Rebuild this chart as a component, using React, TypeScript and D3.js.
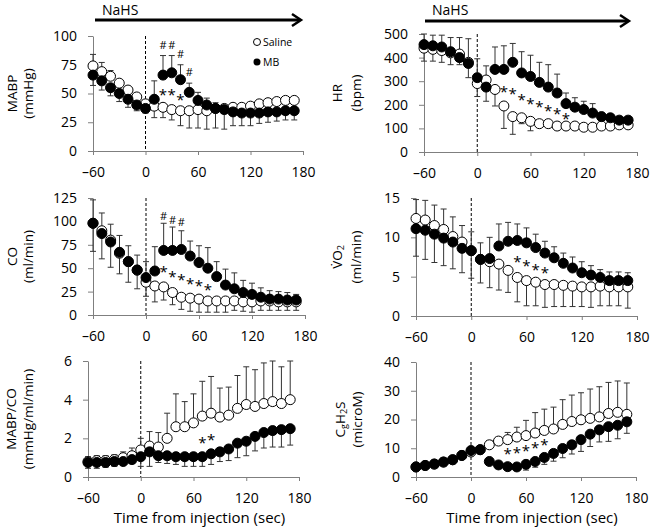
import React, { useEffect, useRef } from 'react';
import * as d3 from 'd3';

const W = 650;
const H = 528;
const FONT = '"Open Sans", "Liberation Sans", sans-serif';

// sampling times (sec from injection)
const times = [-60, -50, -40, -30, -20, -10, 0, 10, 20, 30, 40, 50, 60, 70, 80, 90, 100, 110, 120, 130, 140, 150, 160, 170];
const xTicks = [-60, 0, 60, 120, 180];

// error values are signed: positive = bar drawn up, negative = bar drawn down

// MABP (mmHg)
const mabpSaline = [74, 69, 65, 59, 53, 47, 41, 39, 38, 36, 35, 35, 36, 35, 37, 37, 38, 38, 39, 41, 42, 43, 44, 44];
const mabpSalineErr = [10, 8, 5, 3, 2, 2, 2, -10, -9, -9, -13, -15, -16, -16, -17, 3, 2, 2, 2, 2, 2, 2, 2, 2];
const mabpMB = [66, 61, 55, 50, 45, 40, 37, 45, 66, 68, 62, 51, 44, 40, 37, 36, 34, 33, 33, 33, 34, 34, 35, 35];
const mabpMBErr = [-9, -8, -7, -7, -7, -5, -4, 16, 17, 15, 13, 8, 7, 6, 5, -17, -12, -11, -11, -9, -9, -8, -8, -8];
const mabpStarT = [20, 30, 40];
const mabpStarV = [51, 51, 47];
const mabpHashT = [20, 30, 40, 50];
const mabpHashV = [92, 92, 84, 69];

// HR (bpm)
const hrSaline = [440, 435, 430, 420, 415, 380, 290, 305, 265, 195, 150, 145, 130, 120, 120, 110, 110, 110, 105, 105, 110, 110, 115, 115];
const hrSalineErr = [-55, -50, -50, -50, -45, -65, -55, 60, -70, -95, -75, -25, -40, -10, -10, -15, -15, -5, -5, -5, -5, -5, -5, -5];
const hrMB = [455, 450, 445, 425, 400, 375, 315, 275, 350, 350, 380, 335, 320, 295, 275, 250, 205, 190, 180, 165, 150, 145, 135, 135];
const hrMBErr = [45, 45, 50, 60, 85, 105, 80, -60, 95, 100, 80, 90, 90, 85, 95, 80, 45, 40, 35, 40, 10, 10, 10, 10];
const hrStarT = [30, 40, 50, 60, 70, 80, 90, 100];
const hrStarV = [265, 260, 232, 217, 202, 188, 175, 153];

// CO (ml/min)
const coSaline = [98, 90, 80, 66, 57, 48, 35, 31, 30, 24, 19, 18, 17, 15, 15, 15, 15, 14, 14, 15, 15, 14, 14, 14];
const coSalineErr = [-30, -30, -29, -22, -22, -20, -15, -17, -14, -13, -13, -14, -14, -12, -12, -12, -10, -10, -11, -10, -10, -9, -9, -9];
const coMB = [98, 87, 78, 67, 57, 48, 40, 47, 69, 69, 70, 63, 56, 50, 41, 32, 28, 24, 22, 19, 17, 17, 16, 16];
const coMBErr = [25, 22, 19, 18, 17, 16, 17, 26, 29, 25, 20, 16, 18, 22, 16, 17, 17, 13, 12, 10, 9, 8, 8, 6];
const coStarT = [20, 30, 40, 50, 60, 70];
const coStarV = [49, 44, 41, 36, 34, 30];
const coHashT = [20, 30, 40];
const coHashV = [106, 102, 99];

// VO2 (ml/min)
const vo2Saline = [12.4, 12.2, 11.5, 11.0, 10.1, 9.4, 8.3, 7.2, 6.9, 6.6, 5.8, 4.9, 4.5, 4.3, 4.0, 4.0, 3.9, 3.8, 3.7, 3.7, 3.8, 3.7, 3.7, 3.7];
const vo2SalineErr = [2.4, 2.5, 2.6, 2.6, 2.5, 2.1, 2.4, -3.0, -3.3, -3.3, -2.8, -3.1, -3.2, -3.0, -2.9, -2.8, -2.7, -2.6, -2.5, -2.6, -2.5, -2.4, -2.4, -2.7];
const vo2MB = [11.1, 10.9, 10.4, 9.9, 9.4, 8.6, 8.3, 7.2, 7.3, 8.9, 9.5, 9.6, 9.3, 8.7, 8.0, 7.4, 6.7, 6.1, 5.5, 5.2, 4.9, 4.5, 4.5, 4.5];
const vo2MBErr = [-3.5, -3.7, -3.6, -3.5, -3.4, -3.1, -3.5, 2.1, 2.7, 2.8, 2.4, 2.1, 1.9, 1.7, 1.5, 1.4, 1.3, 1.4, 1.4, 1.2, 1.0, 1.1, 1.1, 1.0];
const vo2StarT = [50, 60, 70, 80];
const vo2StarV = [7.2, 6.8, 6.2, 5.8];

// MABP/CO (mmHg/ml/min)
const ratioSaline = [0.8, 0.85, 0.85, 0.9, 1.0, 1.1, 1.4, 1.6, 1.55, 2.0, 2.6, 2.6, 2.8, 3.15, 3.3, 3.1, 3.2, 3.55, 3.75, 3.65, 3.8, 3.9, 3.8, 4.0];
const ratioSalineErr = [0.25, 0.25, 0.25, 0.25, 0.3, 0.4, 0.6, 0.75, 0.75, 1.3, 1.7, 1.3, 1.5, 1.8, 1.9, 1.5, 1.45, 1.7, 1.95, 1.9, 2.1, 2.1, 1.9, 2.0];
const ratioMB = [0.75, 0.75, 0.75, 0.8, 0.8, 0.9, 1.05, 1.3, 1.1, 1.1, 1.05, 1.05, 1.05, 1.05, 1.2, 1.3, 1.45, 1.75, 1.85, 2.1, 2.3, 2.4, 2.45, 2.5];
const ratioMBErr = [-0.3, -0.3, -0.25, -0.25, -0.2, -0.2, -0.5, -0.75, -0.35, -0.4, -0.4, -0.5, -0.5, -0.5, -0.55, -0.5, -0.6, -0.75, -0.75, -0.75, -0.8, -0.85, -0.9, -0.85];
const ratioStarT = [70, 80];
const ratioStarV = [1.9, 2.08];

// CgH2S (microM)
const h2sSaline = [3.5, 4.0, 4.5, 5.2, 6.0, 7.5, 8.7, 9.5, 11.2, 12.5, 13.0, 13.9, 14.4, 15.3, 16.2, 16.7, 18.3, 19.3, 19.9, 20.4, 20.9, 22.1, 22.5, 21.8];
const h2sSalineErr = [0.3, 0.3, 0.3, 0.3, 0.3, 0.3, 0.5, 0.3, 1.5, 1.0, 2.5, 3.4, 5.3, 7.1, 7.4, 7.6, 8.6, 9.2, 9.4, 10.2, 10.5, 10.8, 10.9, 10.9];
const h2sMB = [3.5, 4.0, 4.5, 5.2, 6.0, 7.5, 9.2, 9.5, 5.4, 4.2, 3.6, 3.5, 4.4, 5.4, 6.8, 8.2, 9.9, 11.2, 13.0, 14.9, 16.4, 17.5, 18.0, 19.2];
const h2sMBErr = [-0.5, -0.5, -0.5, -0.5, -0.5, -0.5, -0.5, -0.5, -0.5, -0.8, -1.0, -1.0, -2.0, -2.0, -2.4, -2.7, -3.2, -3.2, -4.1, -4.3, -4.2, -5.1, -4.7, -4.0];
const h2sStarT = [40, 50, 60, 70, 80];
const h2sStarV = [8.9, 9.4, 10.0, 11.2, 12.3];

type Seg = { t: string; sub?: boolean };

type Panel = {
  left: number; right: number; top: number; bottom: number;
  yMax: number; yTicks: number[];
  label1: Seg[]; label2: string; labelX: [number, number];
  saline: number[]; salineErr: number[]; mb: number[]; mbErr: number[];
  starT: number[]; starV: number[]; hashT?: number[]; hashV?: number[];
  xTitle?: boolean; legend?: boolean;
};

const panels: Panel[] = [
  {
    left: 93, right: 303, top: 36, bottom: 151, yMax: 100, yTicks: [0, 25, 50, 75, 100],
    label1: [{ t: 'MABP' }], label2: '(mmHg)', labelX: [12, 28],
    saline: mabpSaline, salineErr: mabpSalineErr, mb: mabpMB, mbErr: mabpMBErr,
    starT: mabpStarT, starV: mabpStarV, hashT: mabpHashT, hashV: mabpHashV, legend: true,
  },
  {
    left: 424, right: 637, top: 34, bottom: 152, yMax: 500, yTicks: [0, 100, 200, 300, 400, 500],
    label1: [{ t: 'HR' }], label2: '(bpm)', labelX: [337, 356],
    saline: hrSaline, salineErr: hrSalineErr, mb: hrMB, mbErr: hrMBErr,
    starT: hrStarT, starV: hrStarV,
  },
  {
    left: 93, right: 305, top: 198, bottom: 315, yMax: 125, yTicks: [0, 25, 50, 75, 100, 125],
    label1: [{ t: 'CO' }], label2: '(ml/min)', labelX: [12, 28],
    saline: coSaline, salineErr: coSalineErr, mb: coMB, mbErr: coMBErr,
    starT: coStarT, starV: coStarV, hashT: coHashT, hashV: coHashV,
  },
  {
    left: 416, right: 637, top: 198, bottom: 316, yMax: 15, yTicks: [0, 5, 10, 15],
    label1: [{ t: 'V\u0307O' }, { t: '2', sub: true }], label2: '(ml/min)', labelX: [337, 356],
    saline: vo2Saline, salineErr: vo2SalineErr, mb: vo2MB, mbErr: vo2MBErr,
    starT: vo2StarT, starV: vo2StarV,
  },
  {
    left: 88, right: 299, top: 361, bottom: 477, yMax: 6, yTicks: [0, 2, 4, 6],
    label1: [{ t: 'MABP/CO' }], label2: '(mmHg/ml/min)', labelX: [11, 28],
    saline: ratioSaline, salineErr: ratioSalineErr, mb: ratioMB, mbErr: ratioMBErr,
    starT: ratioStarT, starV: ratioStarV, xTitle: true,
  },
  {
    left: 416, right: 636, top: 362, bottom: 477, yMax: 40, yTicks: [0, 10, 20, 30, 40],
    label1: [{ t: 'C' }, { t: 'g', sub: true }, { t: 'H' }, { t: '2', sub: true }, { t: 'S' }], label2: '(microM)', labelX: [340, 357],
    saline: h2sSaline, salineErr: h2sSalineErr, mb: h2sMB, mbErr: h2sMBErr,
    starT: h2sStarT, starV: h2sStarV, xTitle: true,
  },
];

const AXIS = '#7f7f7f';
const fmt = (d: d3.NumberValue) => (+d < 0 ? '\u2013' + Math.abs(+d) : String(+d));

function drawPanel(svg: d3.Selection<SVGSVGElement, unknown, null, undefined>, p: Panel) {
  const x = d3.scaleLinear().domain([-60, 180]).range([p.left, p.right]);
  const y = d3.scaleLinear().domain([0, p.yMax]).range([p.bottom, p.top]);
  const g = svg.append('g');

  // y axis
  const ya = g.append('g')
    .attr('transform', `translate(${p.left},0)`)
    .call(d3.axisLeft(y).tickValues(p.yTicks).tickSize(5).tickSizeOuter(0).tickPadding(11).tickFormat(fmt));
  // x axis
  const xa = g.append('g')
    .attr('transform', `translate(0,${p.bottom})`)
    .call(d3.axisBottom(x).tickValues(xTicks).tickSize(4).tickSizeOuter(0).tickPadding(12).tickFormat(fmt));
  [ya, xa].forEach(a => {
    a.selectAll('path').attr('stroke', AXIS);
    a.selectAll('line').attr('stroke', AXIS);
    a.selectAll('text').attr('fill', '#000').style('font-family', FONT).style('font-size', '14px');
  });

  // dashed line at injection
  g.append('line')
    .attr('x1', x(0)).attr('x2', x(0))
    .attr('y1', p.top).attr('y2', p.bottom)
    .attr('stroke', '#000').attr('stroke-width', 1).attr('stroke-dasharray', '3,2');

  // error bars
  const bars = (vals: number[], errs: number[]) => {
    vals.forEach((v, i) => {
      const e = errs[i];
      if (!e) return;
      const cx = x(times[i]);
      const y1 = y(v + e);
      g.append('line').attr('x1', cx).attr('x2', cx).attr('y1', y(v)).attr('y2', y1)
        .attr('stroke', '#333').attr('stroke-width', 1);
      g.append('line').attr('x1', cx - 3).attr('x2', cx + 3).attr('y1', y1).attr('y2', y1)
        .attr('stroke', '#333').attr('stroke-width', 1);
    });
  };
  bars(p.saline, p.salineErr);
  bars(p.mb, p.mbErr);

  // markers
  g.append('g').selectAll('circle').data(p.saline).enter().append('circle')
    .attr('cx', (_, i) => x(times[i])).attr('cy', d => y(d)).attr('r', 5)
    .attr('fill', '#fff').attr('stroke', '#000').attr('stroke-width', 1);
  g.append('g').selectAll('circle').data(p.mb).enter().append('circle')
    .attr('cx', (_, i) => x(times[i])).attr('cy', d => y(d)).attr('r', 5)
    .attr('fill', '#000').attr('stroke', '#000').attr('stroke-width', 1);

  // significance marks
  p.starT.forEach((t, i) => {
    g.append('text').attr('x', x(t)).attr('y', y(p.starV[i]) + 8)
      .attr('text-anchor', 'middle').style('font-family', FONT).style('font-size', '15px')
      .text('*');
  });
  (p.hashT || []).forEach((t, i) => {
    g.append('text').attr('x', x(t)).attr('y', y(p.hashV![i]) + 4)
      .attr('text-anchor', 'middle').attr('fill', '#000')
      .style('font-family', FONT).style('font-size', '11px')
      .text('#');
  });

  // y labels
  const cy = (p.top + p.bottom) / 2;
  const l1 = g.append('text')
    .attr('transform', `translate(${p.labelX[0]},${cy}) rotate(-90)`)
    .attr('text-anchor', 'middle').attr('dominant-baseline', 'central')
    .style('font-family', FONT).style('font-size', '13.5px');
  p.label1.forEach((s, i) => {
    const ts = l1.append('tspan').text(s.t);
    if (s.sub) ts.attr('dy', 3).style('font-size', '9px');
    else if (i > 0 && p.label1[i - 1].sub) ts.attr('dy', -3);
  });
  g.append('text')
    .attr('transform', `translate(${p.labelX[1]},${cy}) rotate(-90)`)
    .attr('text-anchor', 'middle').attr('dominant-baseline', 'central')
    .style('font-family', FONT).style('font-size', '13.5px')
    .text(p.label2);

  if (p.xTitle) {
    g.append('text').attr('x', (p.left + p.right) / 2 + 6).attr('y', 523)
      .attr('text-anchor', 'middle').style('font-family', FONT).style('font-size', '15px')
      .text('Time from injection (sec)');
  }

  if (p.legend) {
    g.append('circle').attr('cx', 257).attr('cy', 42).attr('r', 3.5)
      .attr('fill', '#fff').attr('stroke', '#000');
    g.append('text').attr('x', 263).attr('y', 46).style('font-family', FONT).style('font-size', '10.5px').text('Saline');
    g.append('circle').attr('cx', 257).attr('cy', 62).attr('r', 3.5).attr('fill', '#000');
    g.append('text').attr('x', 263).attr('y', 66).style('font-family', FONT).style('font-size', '10.5px').text('MB');
  }
}

function drawArrow(svg: d3.Selection<SVGSVGElement, unknown, null, undefined>, x1: number, x2: number, yy: number, tx: number, ty: number) {
  svg.append('line').attr('x1', x1).attr('x2', x2 - 2).attr('y1', yy).attr('y2', yy)
    .attr('stroke', '#000').attr('stroke-width', 3);
  svg.append('path')
    .attr('d', d3.line()([[x2 - 9, yy - 6], [x2, yy], [x2 - 9, yy + 6]]))
    .attr('fill', 'none').attr('stroke', '#000').attr('stroke-width', 2.5);
  svg.append('text').attr('x', tx).attr('y', ty)
    .style('font-family', FONT).style('font-size', '14px').text('NaHS');
}

export default function App() {
  const ref = useRef<SVGSVGElement>(null);

  useEffect(() => {
    const svg = d3.select(ref.current!);
    svg.selectAll('*').remove();
    drawArrow(svg, 95, 301, 20, 102, 15);
    drawArrow(svg, 425, 629, 21, 432, 15);
    panels.forEach(p => drawPanel(svg, p));
  }, []);

  return (
    <svg
      ref={ref}
      width={W}
      height={H}
      style={{ position: 'absolute', left: 0, top: 0, background: '#fff' }}
    />
  );
}
